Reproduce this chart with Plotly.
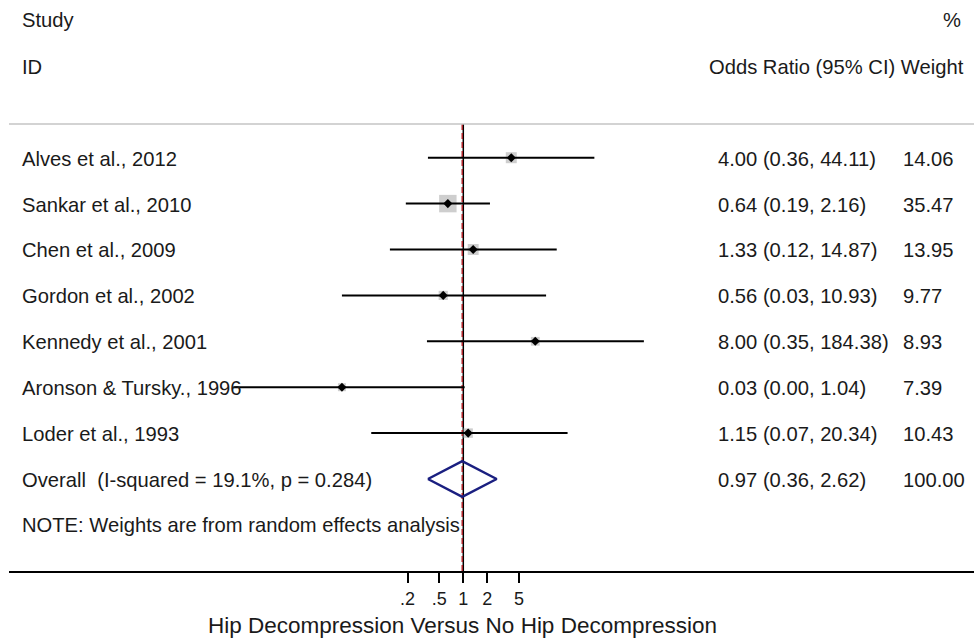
import math
import plotly.graph_objects as go

# ---------------- data ----------------
studies = ["Alves et al., 2012", "Sankar et al., 2010", "Chen et al., 2009",
           "Gordon et al., 2002", "Kennedy et al., 2001", "Aronson & Tursky., 1996",
           "Loder et al., 1993"]
odds_ratio = [4.00, 0.64, 1.33, 0.56, 8.00, 0.03, 1.15]
ci_low = [0.36, 0.19, 0.12, 0.03, 0.35, 0.0013, 0.07]
ci_high = [44.11, 2.16, 14.87, 10.93, 184.38, 1.04, 20.34]
weights = [14.06, 35.47, 13.95, 9.77, 8.93, 7.39, 10.43]

overall_label = "Overall\u00a0\u00a0(I-squared = 19.1%, p = 0.284)"
overall_or = 0.97
overall_low = 0.36
overall_high = 2.62
overall_weight = 100.00

note_text = "NOTE: Weights are from random effects analysis"
x_title = "Hip Decompression Versus No Hip Decompression"
tick_vals = [0.2, 0.5, 1, 2, 5]
tick_text = [".2", ".5", "1", "2", "5"]

# ---------------- layout constants ----------------
W, H = 974, 638
ML, MR, MT, MB = 9, 0, 0, 67
PX_ONE = 463.3          # pixel of OR = 1
PX_DEC = 79.7           # pixels per decade
ROW0, ROWH = 157.7, 45.9
FONT = "Liberation Sans, Arial, sans-serif"
TXT = "#1a1a1a"
FS = 20.2

x_lo = (ML - PX_ONE) / PX_DEC
x_hi = (W - MR - PX_ONE) / PX_DEC
y_top = (MT - ROW0) / ROWH
y_bot = (H - MB - ROW0) / ROWH

def px_to_paper(px):
    return (px - ML) / (W - ML - MR)

def py_to_paper(py):
    return (H - MB - py) / (H - MB - MT)

n = len(studies)
rows = list(range(n))
overall_row = n
note_row = n + 1
line_row = -0.734

fig = go.Figure()

# vertical reference lines
fig.add_trace(go.Scatter(x=[1, 1], y=[line_row, y_bot], mode="lines",
                         line=dict(color="#000000", width=1.5), hoverinfo="skip"))
fig.add_trace(go.Scatter(x=[overall_or, overall_or], y=[line_row, y_bot], mode="lines",
                         line=dict(color="#b0252b", width=1.5, dash="6px,3px"),
                         hoverinfo="skip"))

# weight boxes
box_scale = 2.93
fig.add_trace(go.Scatter(x=odds_ratio, y=rows, mode="markers",
                         marker=dict(symbol="square", color="#b9b9b9",
                                     size=[box_scale * math.sqrt(w) for w in weights],
                                     line=dict(width=0)),
                         hoverinfo="skip"))

# CI lines
for i in range(n):
    fig.add_trace(go.Scatter(x=[ci_low[i], ci_high[i]], y=[rows[i], rows[i]], mode="lines",
                             line=dict(color="#000000", width=2), hoverinfo="skip"))

# point estimates
fig.add_trace(go.Scatter(x=odds_ratio, y=rows, mode="markers",
                         marker=dict(symbol="diamond", color="#000000", size=7),
                         hoverinfo="skip"))

# overall diamond
dh = 0.39
fig.add_trace(go.Scatter(
    x=[overall_low, overall_or, overall_high, overall_or, overall_low],
    y=[overall_row, overall_row - dh, overall_row, overall_row + dh, overall_row],
    mode="lines", line=dict(color="#1a1f80", width=2.5), hoverinfo="skip"))

# top gray separator
fig.add_shape(type="line", xref="paper", yref="y", x0=0, x1=1, y0=line_row, y1=line_row,
              line=dict(color="#c4c4c4", width=1.5))

def txt(x_px, y, s, anchor="left", size=FS):
    fig.add_annotation(x=px_to_paper(x_px), xref="paper", y=y, yref="y", text=s,
                       showarrow=False, xanchor=anchor, yanchor="middle",
                       font=dict(family=FONT, size=size, color=TXT))

# headers
txt(20, -3.0, "Study")
txt(20, -1.976, "ID")
txt(952, -3.0, "%", anchor="center")
txt(966, -1.976, "Odds Ratio (95% CI) Weight", anchor="right")

for i in range(n):
    y = rows[i] + 0.02
    txt(20, y, studies[i])
    txt(716, y, f"{odds_ratio[i]:.2f} ({ci_low[i]:.2f}, {ci_high[i]:.2f})")
    txt(901, y, f"{weights[i]:.2f}")

txt(20, overall_row + 0.02, overall_label)
txt(716, overall_row + 0.02, f"{overall_or:.2f} ({overall_low:.2f}, {overall_high:.2f})")
txt(901, overall_row + 0.02, f"{overall_weight:.2f}")
txt(20, note_row, note_text)

# x-axis title, centred under the null line as in the reference
fig.add_annotation(x=px_to_paper(462), xref="paper", y=py_to_paper(625), yref="paper",
                   text=x_title, showarrow=False, xanchor="center", yanchor="middle",
                   font=dict(family=FONT, size=22.5, color=TXT))

fig.update_layout(
    width=W, height=H,
    margin=dict(l=ML, r=MR, t=MT, b=MB),
    paper_bgcolor="white", plot_bgcolor="white",
    showlegend=False,
    xaxis=dict(type="log", range=[x_lo, x_hi], tickvals=tick_vals, ticktext=tick_text,
               ticks="outside", ticklen=10, tickwidth=1.5, tickcolor="#000000",
               showline=True, linecolor="#000000", linewidth=2,
               showgrid=False, zeroline=False,
               tickfont=dict(family=FONT, size=18, color=TXT)),
    yaxis=dict(range=[y_bot, y_top], visible=False, showgrid=False, zeroline=False),
)

fig.write_html("out.html", config={"displayModeBar": False},
               post_script="document.body.style.margin='0';document.body.style.overflow='hidden';")
